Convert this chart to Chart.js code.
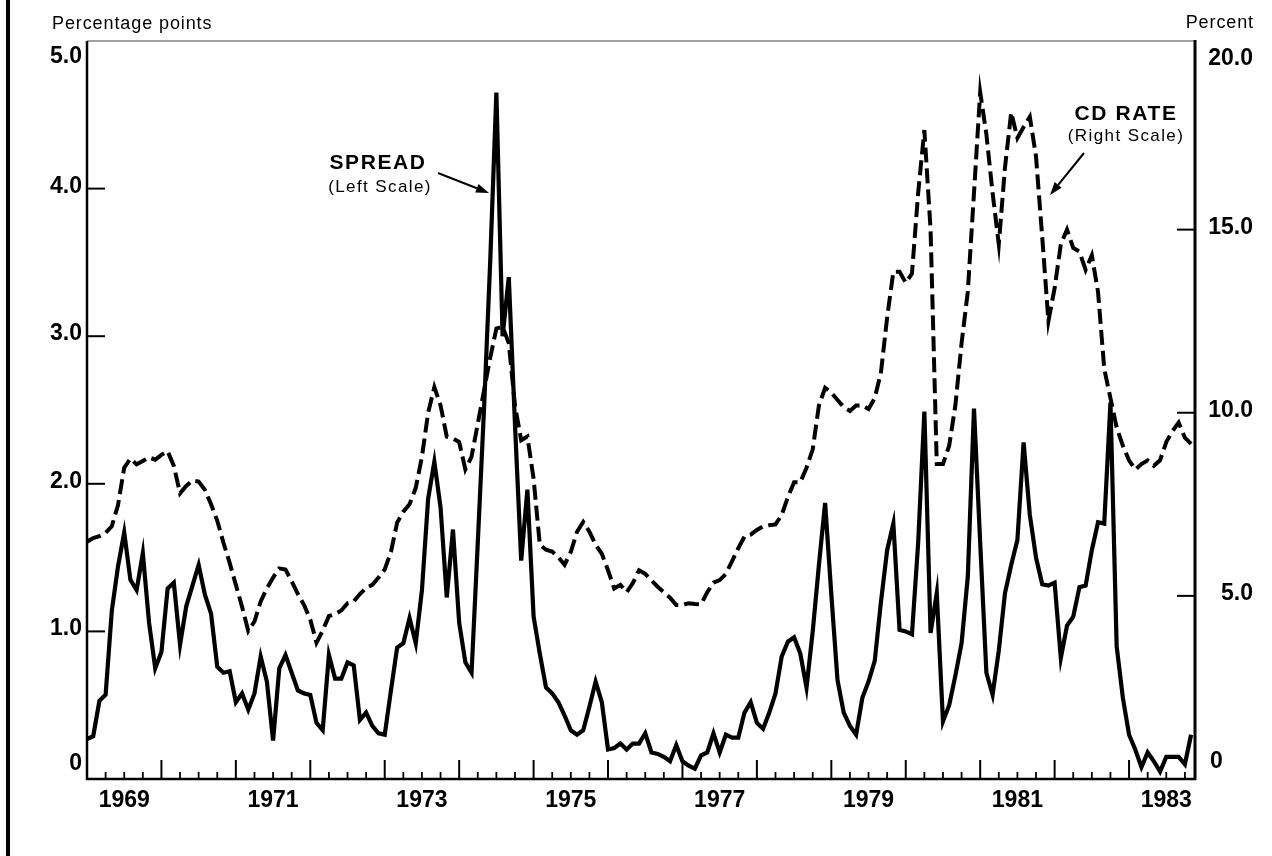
<!DOCTYPE html>
<html>
<head>
<meta charset="utf-8">
<script src="https://cdn.jsdelivr.net/npm/chart.js@4.4.0/dist/chart.umd.min.js"></script>
<style>
html,body{margin:0;padding:0;background:#fff;}
canvas{display:block;}
</style>
</head>
<body>
<canvas id="c" width="1272" height="856"></canvas>
<script>
// ---- DATA (monthly, Jan 1969 .. Nov 1983) ----
const START_YEAR = 1969;
const AXIS_END = 1983.886;

// Spread, percentage points (left scale)
const spread = [
  0.27,0.29,0.53,0.57,1.14,1.44,1.67,1.35,1.28,1.53,1.06,0.75, // 1969
  0.86,1.29,1.33,0.91,1.17,1.31,1.45,1.25,1.12,0.76,0.72,0.73, // 1970
  0.52,0.58,0.47,0.58,0.83,0.66,0.26,0.75,0.84,0.72,0.60,0.58, // 1971
  0.57,0.38,0.33,0.84,0.68,0.68,0.79,0.77,0.40,0.45,0.36,0.31, // 1972
  0.30,0.60,0.89,0.92,1.09,0.92,1.28,1.90,2.15,1.84,1.23,1.69, // 1973
  1.06,0.79,0.72,1.60,2.50,3.50,4.65,3.00,3.40,2.40,1.48,1.96, // 1974
  1.10,0.85,0.62,0.58,0.52,0.43,0.33,0.30,0.33,0.49,0.66,0.52, // 1975
  0.20,0.21,0.24,0.20,0.24,0.24,0.31,0.18,0.17,0.15,0.12,0.23, // 1976
  0.12,0.09,0.07,0.16,0.18,0.31,0.18,0.30,0.28,0.28,0.45,0.52, // 1977
  0.38,0.34,0.45,0.58,0.83,0.93,0.96,0.85,0.62,1.00,1.45,1.87, // 1978
  1.25,0.67,0.45,0.36,0.30,0.55,0.66,0.80,1.20,1.55,1.73,1.01, // 1979
  1.00,0.98,1.60,2.49,0.99,1.26,0.39,0.50,0.70,0.92,1.37,2.51, // 1980
  1.60,0.72,0.57,0.87,1.26,1.45,1.62,2.28,1.79,1.50,1.32,1.31, // 1981
  1.33,0.82,1.04,1.10,1.30,1.31,1.55,1.74,1.73,2.55,0.90,0.55, // 1982
  0.30,0.20,0.08,0.18,0.12,0.05,0.15,0.15,0.15,0.10,0.30       // 1983
];

// CD rate, percent (right scale)
const cdRate = [
  6.48,6.58,6.63,6.72,6.90,7.48,8.50,8.75,8.59,8.68,8.78,8.72,        // 1969
  8.85,8.95,8.55,7.80,8.00,8.15,8.12,7.90,7.50,7.05,6.45,5.90,        // 1970
  5.30,4.70,4.04,4.30,4.85,5.20,5.50,5.75,5.72,5.40,5.05,4.75,        // 1971
  4.35,3.72,4.05,4.45,4.50,4.60,4.80,4.85,5.05,5.22,5.30,5.50,        // 1972
  5.72,6.20,7.00,7.30,7.50,7.95,8.80,10.00,10.70,10.20,9.35,9.30,     // 1973
  9.20,8.45,8.80,9.70,10.60,11.50,12.30,12.35,11.90,10.20,9.25,9.35,  // 1974
  8.20,6.40,6.26,6.21,6.05,5.85,6.20,6.75,7.02,6.75,6.40,6.15,        // 1975
  5.70,5.20,5.30,5.10,5.35,5.70,5.60,5.42,5.25,5.10,4.95,4.75,        // 1976
  4.75,4.80,4.78,4.77,5.10,5.36,5.43,5.60,5.95,6.30,6.62,6.67,        // 1977
  6.80,6.90,6.93,6.95,7.21,7.70,8.10,8.10,8.50,9.00,10.20,10.68,      // 1978
  10.55,10.35,10.15,10.05,10.20,10.20,10.10,10.40,11.10,12.60,13.85,13.85, // 1979
  13.55,13.80,16.00,17.72,15.00,8.60,8.60,9.10,10.20,11.90,13.30,16.00,    // 1980
  18.75,17.60,16.00,14.60,16.70,18.20,17.50,17.80,18.08,17.00,14.80,12.50, // 1981
  13.40,14.60,15.00,14.50,14.40,13.90,14.30,13.30,11.20,10.40,9.60,9.10,   // 1982
  8.70,8.45,8.60,8.70,8.55,8.70,9.20,9.50,9.73,9.32,9.15                   // 1983
];

const leftTicks = [0, 1, 2, 3, 4, 5];
const leftTickLabels = ['0', '1.0', '2.0', '3.0', '4.0', '5.0'];
const rightTicks = [0, 5, 10, 15, 20];
const rightTickLabels = ['0', '5.0', '10.0', '15.0', '20.0'];
const yearLabels = [1969, 1971, 1973, 1975, 1977, 1979, 1981, 1983];
const yearTicks = [1970,1971,1972,1973,1974,1975,1976,1977,1978,1979,1980,1981,1982,1983];

const dateOf = i => START_YEAR + i / 12;
const FONT = '"Liberation Sans", Arial, Helvetica, sans-serif';

function seg(ctx, x1, y1, x2, y2, w, color) {
  ctx.beginPath();
  ctx.lineWidth = w;
  ctx.strokeStyle = color || '#000';
  ctx.moveTo(x1, y1);
  ctx.lineTo(x2, y2);
  ctx.stroke();
}
function arrow(ctx, x1, y1, x2, y2) {
  const ang = Math.atan2(y2 - y1, x2 - x1);
  const L = 13, W = 4.5;
  const bx = x2 - L * Math.cos(ang), by = y2 - L * Math.sin(ang);
  seg(ctx, x1, y1, bx, by, 2);
  ctx.beginPath();
  ctx.fillStyle = '#000';
  ctx.moveTo(x2, y2);
  ctx.lineTo(bx + W * Math.sin(ang), by - W * Math.cos(ang));
  ctx.lineTo(bx - W * Math.sin(ang), by + W * Math.cos(ang));
  ctx.closePath();
  ctx.fill();
}
function text(ctx, s, x, y, font, align, ls) {
  ctx.font = font;
  ctx.textAlign = align;
  ctx.textBaseline = 'alphabetic';
  ctx.letterSpacing = (ls || 0) + 'px';
  ctx.fillStyle = '#000';
  ctx.fillText(s, x, y);
  ctx.letterSpacing = '0px';
}

const framePlugin = {
  id: 'frame',
  afterDraw(chart) {
    const { ctx, chartArea: a, scales } = chart;
    const xs = scales.x, yL = scales.yL, yR = scales.yR;
    ctx.save();
    ctx.lineCap = 'butt';
    // page border on the left
    ctx.fillStyle = '#000';
    ctx.fillRect(6, 0, 4, chart.height);

    // frame
    seg(ctx, a.left, a.top, a.right, a.top, 1, '#444');
    seg(ctx, a.left, a.top, a.left, a.bottom + 1, 2.5);
    seg(ctx, a.left - 1, a.bottom, a.right + 1, a.bottom, 2.5);
    seg(ctx, a.right, a.top - 1, a.right, a.bottom + 1, 3);

    // left ticks (inward)
    leftTicks.forEach(v => {
      if (v > 0 && v < 5) {
        const py = yL.getPixelForValue(v);
        seg(ctx, a.left, py, a.left + 18, py, 2);
      }
    });
    // right ticks (inward)
    rightTicks.forEach(v => {
      if (v > 0 && v < 20) {
        const py = yR.getPixelForValue(v);
        seg(ctx, a.right - 18, py, a.right, py, 2);
      }
    });
    // bottom ticks: years tall, quarters short
    yearTicks.forEach(yr => {
      const px = xs.getPixelForValue(yr);
      seg(ctx, px, a.bottom, px, a.bottom - 19, 2);
    });
    for (let yr = START_YEAR; yr <= 1983; yr++) {
      [0.25, 0.5, 0.75].forEach(q => {
        const t = yr + q;
        if (t < AXIS_END) {
          const px = xs.getPixelForValue(t);
          seg(ctx, px, a.bottom, px, a.bottom - 7, 1.8);
        }
      });
    }

    // tick labels
    const tickFont = 'bold 23px ' + FONT;
    leftTicks.forEach((v, i) => {
      let by = yL.getPixelForValue(v) + 4;
      by = Math.min(Math.max(by, a.top + 22), a.bottom - 9);
      text(ctx, leftTickLabels[i], a.left - 5, by, tickFont, 'right', 0);
    });
    rightTicks.forEach((v, i) => {
      let by = yR.getPixelForValue(v) + 4;
      by = Math.min(Math.max(by, a.top + 24), a.bottom - 11);
      if (v === 0) text(ctx, rightTickLabels[i], a.right + 15, by, tickFont, 'left', 0);
      else text(ctx, rightTickLabels[i], a.right + 58, by, tickFont, 'right', 0);
    });
    yearLabels.forEach(yr => {
      const px = xs.getPixelForValue(yr + 0.5);
      text(ctx, String(yr), px, a.bottom + 28, tickFont, 'center', 0);
    });

    // axis titles
    text(ctx, 'Percentage points', 52, 29, '18px ' + FONT, 'left', 0.9);
    text(ctx, 'Percent', 1254, 28, '18px ' + FONT, 'right', 0.9);

    // annotations
    text(ctx, 'SPREAD', 378, 169, 'bold 21px ' + FONT, 'center', 1.6);
    text(ctx, '(Left Scale)', 380, 192, '17px ' + FONT, 'center', 1.4);
    arrow(ctx, 438, 173, 489, 193);
    text(ctx, 'CD RATE', 1126, 120, 'bold 21px ' + FONT, 'center', 1.6);
    text(ctx, '(Right Scale)', 1126, 141, '17px ' + FONT, 'center', 1.4);
    arrow(ctx, 1084, 153, 1050, 195);

    ctx.restore();
  }
};

new Chart(document.getElementById('c').getContext('2d'), {
  type: 'line',
  data: {
    datasets: [
      {
        label: 'CD RATE',
        data: cdRate.map((v, i) => ({ x: dateOf(i), y: v })),
        yAxisID: 'yR',
        borderColor: '#000',
        borderWidth: 4,
        borderDash: [15, 6],
        pointRadius: 0,
        tension: 0,
        fill: false
      },
      {
        label: 'SPREAD',
        data: spread.map((v, i) => ({ x: dateOf(i), y: v })),
        yAxisID: 'yL',
        borderColor: '#000',
        borderWidth: 4.2,
        pointRadius: 0,
        tension: 0,
        fill: false
      }
    ]
  },
  options: {
    responsive: false,
    animation: false,
    devicePixelRatio: 1,
    layout: { padding: { left: 87, right: 77, top: 41, bottom: 77 } },
    plugins: { legend: { display: false }, tooltip: { enabled: false } },
    scales: {
      x: { type: 'linear', min: START_YEAR, max: AXIS_END, display: false },
      yL: { type: 'linear', position: 'left', min: 0, max: 5, display: false },
      yR: { type: 'linear', position: 'right', min: 0, max: 20.15, display: false }
    }
  },
  plugins: [framePlugin]
});
</script>
</body>
</html>
